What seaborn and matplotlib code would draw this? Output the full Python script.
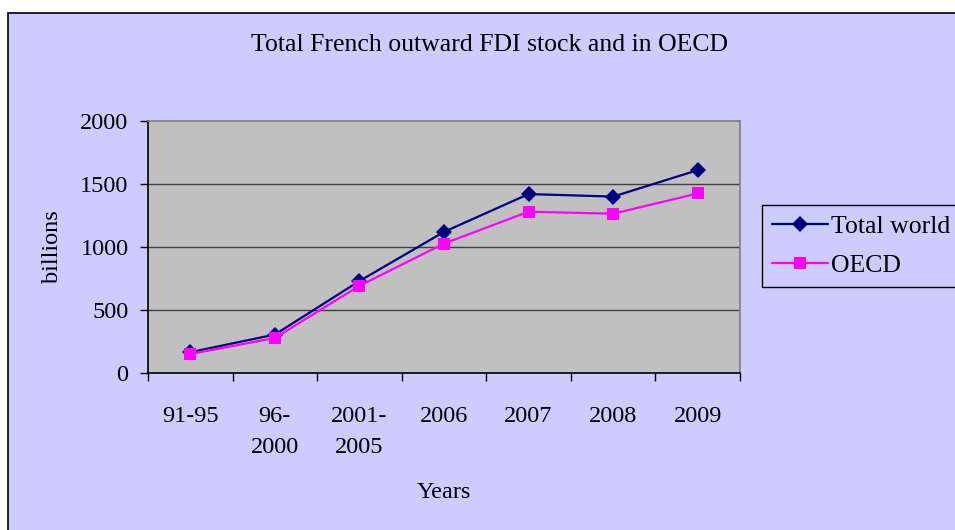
import numpy as np
import pandas as pd
import matplotlib
matplotlib.use('Agg')
import matplotlib.pyplot as plt
import seaborn as sns
from matplotlib.patches import Rectangle

years = ['91-95', '96-\n2000', '2001-\n2005', '2006', '2007', '2008', '2009']
total_world = [165, 305, 730, 1120, 1420, 1400, 1610]
oecd = [150, 278, 692, 1027, 1280, 1264, 1425]

df = pd.DataFrame({'Years': list(range(len(years))) * 2,
                   'value': total_world + oecd,
                   'series': ['Total world'] * len(years) + ['OECD'] * len(years)})

sns.set_style('white')
plt.rcParams['font.family'] = ['Liberation Serif', 'DejaVu Serif']
plt.rcParams['text.color'] = 'black'
plt.rcParams['axes.labelcolor'] = 'black'
plt.rcParams['xtick.color'] = 'black'
plt.rcParams['ytick.color'] = 'black'
FS = 17.5

fig = plt.figure(figsize=(9.55, 5.3), dpi=100)
fig.patch.set_facecolor('white')
# chart area background with border
fig.patches.append(Rectangle((8 / 955, -0.1), 1.1, 1 - 13 / 530 + 0.1,
                             transform=fig.transFigure, facecolor='#CCCCFF',
                             edgecolor='black', linewidth=1.2, zorder=-10))

ax = fig.add_axes([148 / 955, 1 - 373 / 530, (740 - 148) / 955, (373 - 121) / 530])
ax.set_facecolor('#C0C0C0')

# gridlines
for v in [500, 1000, 1500]:
    ax.axhline(v, color='#404040', linewidth=1.0, zorder=1)

sns.lineplot(data=df, x='Years', y='value', hue='series', style='series',
             palette={'Total world': '#000080', 'OECD': '#FF00FF'},
             markers={'Total world': 'D', 'OECD': 's'}, dashes=False,
             markersize=8.5, linewidth=1.6, markeredgewidth=0, ax=ax, zorder=3)

ax.set_xlim(-0.5, len(years) - 0.5)
ax.set_ylim(0, 2000)
ax.set_yticks([0, 500, 1000, 1500, 2000])
ax.set_xticks(range(len(years)))
ax.set_xticklabels(years, fontsize=FS, linespacing=1.6)
ax.set_xticks(np.arange(-0.5, len(years), 1), minor=True)
ax.tick_params(axis='x', which='major', length=0, pad=24, labelcolor='black')
ax.tick_params(axis='x', which='minor', length=6, width=1, color='black', direction='out', bottom=True)
ax.tick_params(axis='y', length=6, width=1, color='black', direction='out', left=True,
               labelsize=FS, pad=8, labelcolor='black')

for side in ['left', 'bottom']:
    ax.spines[side].set_color('black')
    ax.spines[side].set_linewidth(1.2)
for side in ['top', 'right']:
    ax.spines[side].set_color('#808080')
    ax.spines[side].set_linewidth(1.2)

ax.set_xlabel('Years', fontsize=FS, color='black')
ax.xaxis.set_label_coords(0.5, (373 - 493) / 252)
ax.xaxis.label.set_va('center')
ax.set_ylabel('billions', fontsize=FS, color='black')
ax.yaxis.set_label_coords((52 - 148) / 592, 0.5)
ax.yaxis.label.set_va('center')

fig.text(489 / 955, 1 - 45 / 530, 'Total French outward FDI stock and in OECD',
         ha='center', va='center', fontsize=18.5, color='black')

handles, labels = ax.get_legend_handles_labels()
leg = ax.legend(handles, labels, loc='upper left', bbox_to_anchor=(762 / 955, 1 - 205 / 530),
                bbox_transform=fig.transFigure, frameon=True, fancybox=False,
                fontsize=18.5, handlelength=2.15, borderpad=0.4, labelspacing=0.62,
                handletextpad=0.15, borderaxespad=0, framealpha=1)
leg.get_frame().set_edgecolor('black')
leg.get_frame().set_facecolor('#CCCCFF')
leg.get_frame().set_linewidth(1.0)
for t in leg.get_texts():
    t.set_color('black')

fig.savefig('out.png', dpi=100)
